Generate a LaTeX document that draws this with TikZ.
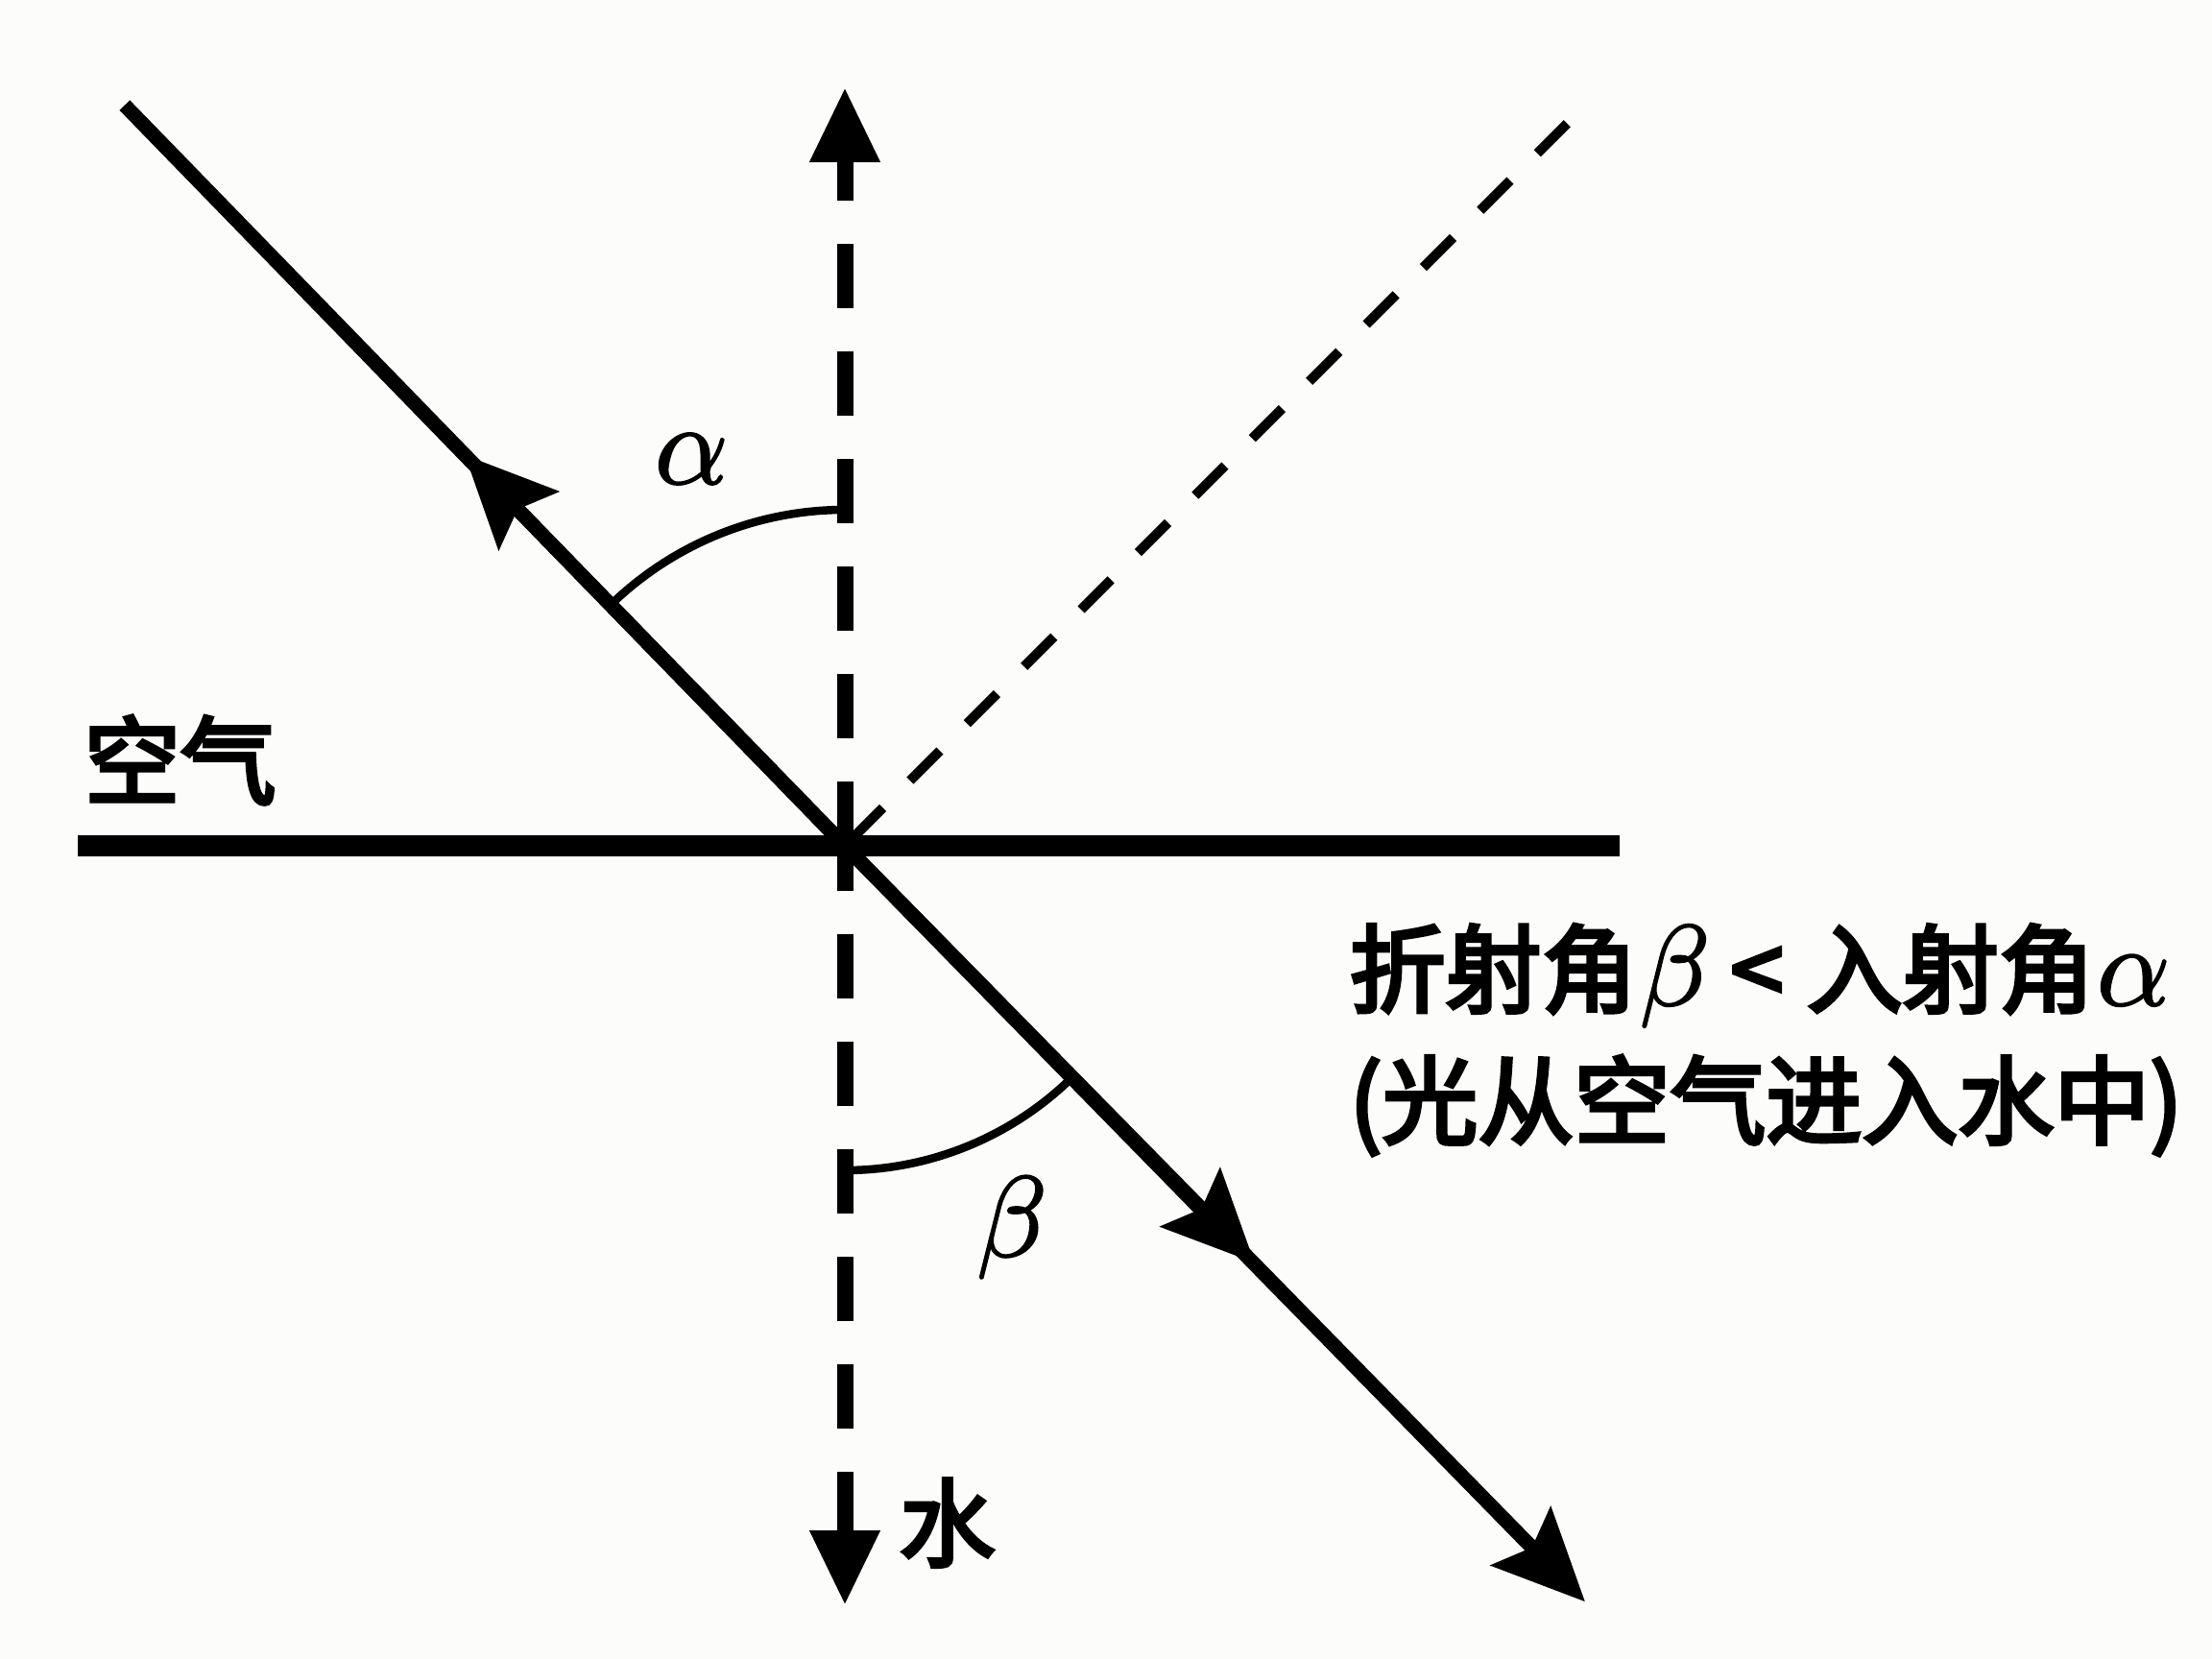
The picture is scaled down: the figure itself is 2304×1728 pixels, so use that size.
\documentclass[tikz,border=0pt]{standalone}
\usepackage{fontspec}
\usetikzlibrary{arrows.meta}
\newfontfamily\cjk{Noto Sans CJK SC}[FakeBold=4]
\newfontfamily\grk{latinmodern-math.otf}[FakeBold=1.5]
\newcommand\cjkfs{\cjk\fontsize{28.45pt}{39pt}\selectfont}
\newcommand\grkfs{\grk\fontsize{34pt}{40pt}\selectfont}
\definecolor{bgcol}{RGB}{252,252,250}
\begin{document}
\begin{tikzpicture}[x=0.1mm,y=0.1mm,
  surface/.style={line width=2.2mm, line cap=butt},
  ray/.style={line width=1.5mm, line cap=butt},
  normal/.style={line width=1.7mm, dash pattern=on 6.7mm off 4.5mm},
  refl/.style={line width=1.0mm, dash pattern=on 4.4mm off 4.0mm, dash phase=7.2mm},
  anglearc/.style={line width=0.85mm},
  bigtip/.style={-{Stealth[length=9.5mm,width=8.6mm,inset=1.6mm]}},
  normtip/.style={-{Triangle[length=7.8mm,width=6.9mm]}},
  cjklabel/.style={inner sep=0pt, font=\cjkfs},
  greeklabel/.style={inner sep=0pt, font=\grkfs}]
\fill[bgcol] (-880,-847) rectangle (1424,881);
\useasboundingbox (-880,-847) rectangle (1424,881);
\coordinate (O) at (0,0);
\coordinate (L) at (-799,0);
\coordinate (R) at (807,0);
\coordinate (Ntop) at (0,790);
\coordinate (Nbot) at (0,-791);
\coordinate (Inc) at (134.2:1076);
\coordinate (IncArr) at (134.2:568);
\coordinate (Ref) at (-45.6:1102);
\coordinate (RefArr) at (-45.5:609);
\coordinate (Rfl) at (45:1064);
% surface
\draw[surface] (L) -- (R);
% normal
\draw[normal, normtip] (O) -- (Ntop);
\draw[normal, dash phase=2mm, normtip] (O) -- (Nbot);
% reflected (dashed)
\draw[refl] (O) -- (Rfl);
% incident ray
\draw[ray] (O) -- (Inc);
\draw[ray, bigtip] (O) -- (IncArr);
% refracted ray
\draw[ray, bigtip] (O) -- (Ref);
\draw[ray, bigtip] (O) -- (RefArr);
% angle arcs
\draw[anglearc] (0,350) arc[start angle=90, end angle=134.2, radius=350];
\draw[anglearc] (0,-338) arc[start angle=-90, end angle=-45.6, radius=338];
% labels
\node[greeklabel] (alab) at (-160,403) {𝛼};
\node[greeklabel] (blab) at (171,-397) {𝛽};
\node[cjklabel, anchor=base west] (air) at (-793,51) {空气};
\node[cjklabel, anchor=base west] (water) at (56,-743) {水};
\node[cjklabel, anchor=base west] (t1) at (525,-166) {折射角\kern0.2mm{\grkfs 𝛽}\kern2.7mm<\kern2.4mm入射角\kern0.2mm{\grkfs 𝛼}};
\node[cjklabel, anchor=base west] (t2) at (525,-303) {(光从空气进入水中)};
\end{tikzpicture}
\end{document}
